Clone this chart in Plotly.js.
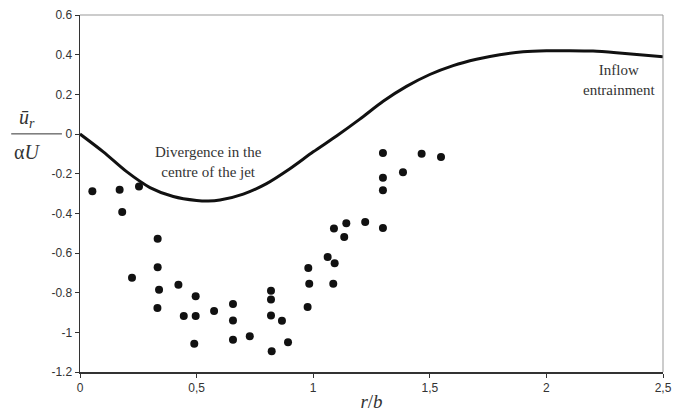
<!DOCTYPE html>
<html>
<head>
<meta charset="utf-8">
<script src="https://cdn.plot.ly/plotly-3.0.1.min.js"></script>
<style>html,body{margin:0;padding:0;background:#fff;}#chart{width:682px;height:414px;}</style>
</head>
<body>
<div id="chart"></div>
<script>
// Theoretical curve
const curveX = [0,0.1,0.2,0.3,0.4,0.5,0.55,0.6,0.7,0.8,0.9,1.0,1.1,1.2,1.3,1.4,1.5,1.6,1.7,1.8,1.9,2.0,2.1,2.2,2.3,2.4,2.5];
const curveY = [0,-0.09,-0.19,-0.27,-0.315,-0.335,-0.338,-0.333,-0.303,-0.25,-0.175,-0.09,-0.01,0.075,0.165,0.24,0.30,0.345,0.377,0.40,0.415,0.42,0.42,0.418,0.41,0.40,0.39];

// Measured data points
const dataX = [0.053,0.170,0.253,0.181,0.333,0.333,0.223,0.339,0.332,0.422,0.445,0.496,0.496,0.490,0.575,0.656,0.656,0.656,0.728,0.819,0.819,0.819,0.866,0.822,0.892,0.979,0.983,0.976,1.062,1.092,1.086,1.089,1.142,1.133,1.223,1.299,1.299,1.299,1.465,1.548,1.385,1.299];
const dataY = [-0.289,-0.281,-0.265,-0.393,-0.528,-0.672,-0.725,-0.785,-0.877,-0.760,-0.918,-0.818,-0.918,-1.057,-0.893,-0.857,-0.940,-1.037,-1.020,-0.790,-0.834,-0.915,-0.941,-1.096,-1.050,-0.676,-0.755,-0.872,-0.620,-0.652,-0.755,-0.477,-0.450,-0.519,-0.444,-0.474,-0.284,-0.096,-0.099,-0.116,-0.193,-0.220];

const xTicks = [0,0.5,1,1.5,2,2.5];
const xTickText = ['0','0,5','1','1,5','2','2,5'];
const yTicks = [-1.2,-1,-0.8,-0.6,-0.4,-0.2,0,0.2,0.4,0.6];
const yTickText = ['-1.2','-1','-0.8','-0.6','-0.4','-0.2','0','0.2','0.4','0.6'];

const serif = 'Liberation Serif';
const sans = 'Liberation Sans';

const traces = [
  {x: curveX, y: curveY, type: 'scatter', mode: 'lines', line: {color: '#111', width: 3, shape: 'spline', smoothing: 0.8}, hoverinfo: 'skip'},
  {x: dataX, y: dataY, type: 'scatter', mode: 'markers', marker: {color: '#111', size: 8}, hoverinfo: 'skip'}
];

const layout = {
  width: 682, height: 414,
  margin: {l: 80, r: 19, t: 15, b: 42},
  paper_bgcolor: '#fff', plot_bgcolor: '#fff',
  showlegend: false,
  xaxis: {
    range: [0, 2.5], tickvals: xTicks, ticktext: xTickText,
    showgrid: false, zeroline: false, showline: true, linecolor: '#333', linewidth: 1.5,
    ticks: 'outside', ticklen: 4, tickcolor: '#333',
    tickfont: {family: sans, size: 12, color: '#333'},
    title: {text: '<i>r</i>/<i>b</i>', font: {family: serif, size: 19, color: '#333'}, standoff: 1}
  },
  yaxis: {
    range: [-1.2, 0.6], tickvals: yTicks, ticktext: yTickText,
    showgrid: false, zeroline: false, showline: true, linecolor: '#333', linewidth: 1.5,
    ticks: 'outside', ticklen: 4, tickcolor: '#333',
    tickfont: {family: sans, size: 12, color: '#333'}
  },
  shapes: [
    {type: 'line', xref: 'paper', yref: 'paper', x0: 0, x1: 1, y0: 1, y1: 1, line: {color: '#999', width: 1}},
    {type: 'line', xref: 'paper', yref: 'paper', x0: 1, x1: 1, y0: 0, y1: 1, line: {color: '#999', width: 1}},
    {type: 'line', xref: 'paper', yref: 'paper', x0: -0.118, x1: -0.031, y0: 0.667, y1: 0.667, line: {color: '#333', width: 1}}
  ],
  annotations: [
    {xref: 'paper', yref: 'paper', x: -0.091, y: 0.71, text: '<i>ū</i><sub><i>r</i></sub>', showarrow: false, xanchor: 'center', yanchor: 'middle', font: {family: serif, size: 20, color: '#333'}},
    {xref: 'paper', yref: 'paper', x: -0.091, y: 0.615, text: 'α<i>U</i>', showarrow: false, xanchor: 'center', yanchor: 'middle', font: {family: serif, size: 20, color: '#333'}},
    {xref: 'x', yref: 'y', x: 0.55, y: -0.14, text: 'Divergence in the<br>centre of the jet', showarrow: false, xanchor: 'center', yanchor: 'middle', font: {family: serif, size: 15, color: '#333'}},
    {xref: 'x', yref: 'y', x: 2.31, y: 0.272, text: 'Inflow<br>entrainment', showarrow: false, xanchor: 'center', yanchor: 'middle', font: {family: serif, size: 15, color: '#333'}}
  ]
};

Plotly.newPlot('chart', traces, layout, {staticPlot: true, displayModeBar: false});
</script>
</body>
</html>
